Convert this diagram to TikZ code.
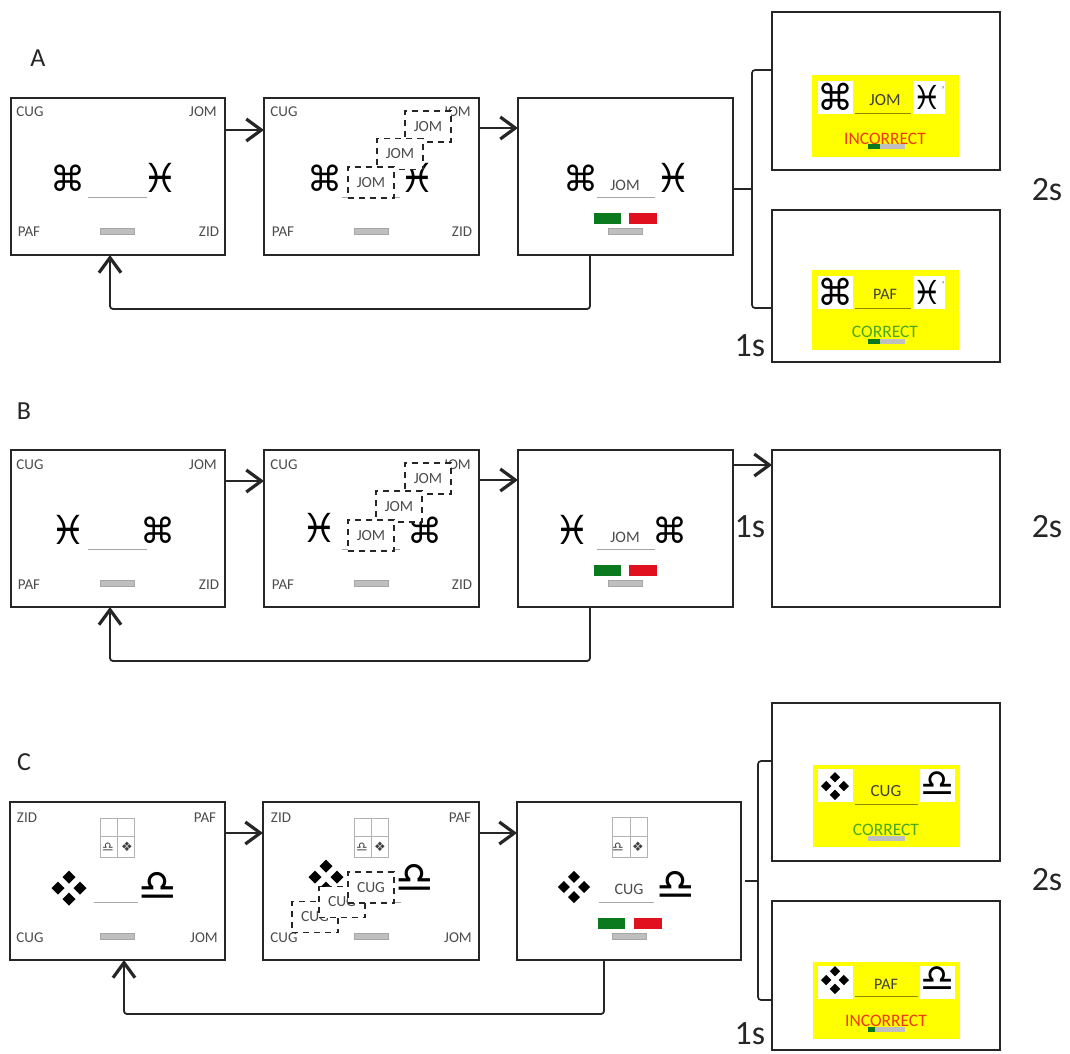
\documentclass[tikz,border=0pt]{standalone}
\usepackage{fontspec}
\setmainfont{Carlito}
\newfontfamily\symfont{DejaVu Sans}
\usetikzlibrary{arrows.meta}
\definecolor{okgreen}{HTML}{0B7A1E}
\definecolor{badred}{HTML}{E0101F}
\definecolor{hitgreen}{HTML}{4CA81A}
\definecolor{hitred}{HTML}{EE3A10}
\definecolor{flash}{HTML}{FFFF00}
\newcommand{\fsz}[1]{\fontsize{#1}{#1}\selectfont}
\tikzset{
  screen/.style={draw=black!85, line width=1.7pt, fill=white, inner sep=0pt, outer sep=0pt},
  lab/.style={font=\fsz{15}, text=black!70, inner sep=0pt},
  word/.style={font=\fsz{16}, text=black!70, inner sep=0pt},
  hit/.style={font=\fsz{17}, text=black!75, inner sep=0pt},
  msg/.style={font=\fsz{17.5}, inner sep=0pt},
  bigt/.style={font=\fsz{34}, text=black!85, inner sep=0pt},
  letter/.style={font=\fsz{26}, text=black!85, inner sep=0pt},
  cmd/.style={font=\symfont\fsz{35}, text=black, inner sep=0pt},
  fish/.style={font=\symfont\fsz{40}, text=black, inner sep=0pt},
  cmdb/.style={font=\symfont\fsz{36}, text=black, inner sep=0pt},
  fishb/.style={font=\symfont\fsz{33}, text=black, inner sep=0pt},
  libra/.style={font=\symfont\fsz{43}, text=black, inner sep=0pt},
  librab/.style={font=\symfont\fsz{38}, text=black, inner sep=0pt},
  gemset/.pic={\fill (-17.5,0) -- (-11,-6.5) -- (-4.5,0) -- (-11,6.5) -- cycle
    (4.5,0) -- (11,-6.5) -- (17.5,0) -- (11,6.5) -- cycle
    (-6.5,-11) -- (0,-17.5) -- (6.5,-11) -- (0,-4.5) -- cycle
    (-6.5,11) -- (0,4.5) -- (6.5,11) -- (0,17.5) -- cycle;},
  mini/.style={font=\symfont\fsz{13}, text=black!75, inner sep=0pt},
  drag/.style={draw=black!85, line width=1.8pt, dash pattern=on 6pt off 5pt, fill=white,
    minimum width=46pt, minimum height=31pt, inner sep=0pt, font=\fsz{15.5}, text=black!70},
  grey/.style={draw=black!35, fill=black!25, minimum width=34pt, minimum height=6pt, inner sep=0pt},
  gobar/.style={fill=okgreen, minimum width=27pt, minimum height=11pt, inner sep=0pt},
  nobar/.style={fill=badred, minimum width=28pt, minimum height=11pt, inner sep=0pt},
  slot/.style={draw=black!35, line width=0.6pt},
  slotb/.style={draw=black!45!flash, line width=0.6pt},
  gridln/.style={draw=black!30, line width=0.6pt},
  flow/.style={-{Straight Barb[length=15pt,width=22pt,line width=3.2pt]}, line width=1.8pt, draw=black!85},
  brack/.style={line width=1.7pt, draw=black!85, rounded corners=3pt},
  flashbg/.style={fill=flash, inner sep=0pt},
  blank/.style={fill=white, minimum width=35pt, minimum height=33pt, inner sep=0pt},
  minibar/.style={fill=black!25, minimum width=37pt, minimum height=5pt, inner sep=0pt},
}
\begin{document}
\begin{tikzpicture}[x=1pt,y=-1pt]
  \useasboundingbox (0,0) rectangle (1070,1053);
  % row A
  \node[letter] (lA) at (38,58) {A};
  \node[screen, minimum width=214pt, minimum height=157pt] (a1) at (118,176.5) {};
  \node[screen, minimum width=215pt, minimum height=157pt] (a2) at (371.5,176.5) {};
  \node[screen, minimum width=215pt, minimum height=157pt] (a3) at (625.5,176.5) {};
  \node[screen, minimum width=228pt, minimum height=158pt] (a4) at (886,91) {};
  \node[screen, minimum width=228pt, minimum height=152pt] (a5) at (886,286) {};
  \node[lab] (a1tl) at (30,112) {CUG};
  \node[lab] (a1tr) at (203,112) {JOM};
  \node[lab] (a1bl) at (29,232) {PAF};
  \node[lab] (a1br) at (209,232) {ZID};
  \node[cmd] (a1s) at (68,178) {⌘};
  \node[fish] (a1t) at (160,178) {♓};
  \draw[slot] (88,197) -- (147,197);
  \node[grey] (a1g) at (117,231) {};
  \node[lab] (a2tl) at (284,112) {CUG};
  \node[lab] (a2tr) at (457,112) {JOM};
  \node[lab] (a2bl) at (283,232) {PAF};
  \node[lab] (a2br) at (462,232) {ZID};
  \node[cmd] (a2s) at (325,178) {⌘};
  \node[fish] (a2t) at (417,178) {♓};
  \draw[slot] (342,197) -- (400,197);
  \node[grey] (a2g) at (371,231) {};
  \node[drag] (a2d3) at (428,126.5) {JOM};
  \node[drag] (a2d2) at (400,154) {JOM};
  \node[drag] (a2d1) at (371,182.5) {JOM};
  \node[cmd] (a3s) at (581,178) {⌘};
  \node[fish] (a3t) at (673,178) {♓};
  \node[word] (a3w) at (625,185) {JOM};
  \draw[slot] (597,197) -- (655,197);
  \node[gobar] (a3y) at (607.5,218.5) {};
  \node[nobar] (a3n) at (643,218.5) {};
  \node[grey] (a3g) at (625.5,231) {};
  % feedback A
  \node[flashbg, minimum width=147pt, minimum height=82pt] (a4f) at (885.5,116) {};
  \node[blank] (a4l) at (835,97) {};
  \node[blank, minimum width=32pt] (a4r) at (929,97) {};
  \node[cmdb] (a4s) at (835,97) {⌘};
  \node[fishb] (a4t) at (927,97) {♓};
  \node[lab, font=\fsz{10}] (a4k) at (943,90) {'};
  \node[hit] (a4w) at (885,100) {JOM};
  \draw[slotb] (855,113) -- (911,113);
  \node[msg, text=hitred] (a4m) at (885,139) {INCORRECT};
  \node[minibar] (a4b) at (886,146.5) {};
  \node[fill=okgreen, minimum width=12pt, minimum height=5pt, inner sep=0pt] (a4c) at (874,146.5) {};
  \node[flashbg, minimum width=147pt, minimum height=80pt] (a5f) at (885.5,310) {};
  \node[blank] (a5l) at (835,292) {};
  \node[blank, minimum width=32pt] (a5r) at (929,292) {};
  \node[cmdb] (a5s) at (835,292) {⌘};
  \node[fishb] (a5t) at (927,292) {♓};
  \node[lab, font=\fsz{10}] (a5k) at (943,285) {'};
  \node[hit, font=\fsz{16}] (a5w) at (885,294) {PAF};
  \draw[slotb] (855,308) -- (911,308);
  \node[msg, text=hitgreen] (a5m) at (885,332) {CORRECT};
  \node[minibar] (a5b) at (886,341) {};
  \node[fill=okgreen, minimum width=12pt, minimum height=5pt, inner sep=0pt] (a5c) at (874,341) {};
  \node[bigt] (a2l) at (1047,190) {2s};
  \node[bigt] (a1l) at (750,346) {1s};
  \coordinate (a3j) at (752,189);
  \draw[flow] (a1.east |- 0,130) -- (a2.west |- 0,130);
  \draw[flow] (a2.east |- 0,128) -- (a3.west |- 0,128);
  \draw[flow, rounded corners=3pt] (590,255) -- (590,309) -- (110,309) -- (110,255);
  \draw[line width=1.7pt, draw=black!85] (a3.east |- a3j) -- (a3j);
  \draw[brack] (a4.west |- 0,70) -- (a3j |- 0,70) -- (a3j |- 0,308) -- (a5.west |- 0,308);
  % row B
  \node[letter] (lB) at (24,411) {B};
  \node[screen, minimum width=214pt, minimum height=157pt] (b1) at (118,528.5) {};
  \node[screen, minimum width=215pt, minimum height=157pt] (b2) at (371.5,528.5) {};
  \node[screen, minimum width=215pt, minimum height=157pt] (b3) at (625.5,528.5) {};
  \node[screen, minimum width=228pt, minimum height=157pt] (b4) at (886,528.5) {};
  \node[lab] (b1tl) at (30,465) {CUG};
  \node[lab] (b1tr) at (203,465) {JOM};
  \node[lab] (b1bl) at (29,585) {PAF};
  \node[lab] (b1br) at (209,585) {ZID};
  \node[fish] (b1t) at (68,530) {♓};
  \node[cmd] (b1s) at (158,530) {⌘};
  \draw[slot] (88,549) -- (147,549);
  \node[grey] (b1g) at (117,583) {};
  \node[lab] (b2tl) at (284,465) {CUG};
  \node[lab] (b2tr) at (457,465) {JOM};
  \node[lab] (b2bl) at (283,585) {PAF};
  \node[lab] (b2br) at (462,585) {ZID};
  \node[fish] (b2t) at (319,528) {♓};
  \node[cmd] (b2s) at (425,530) {⌘};
  \draw[slot] (342,549) -- (400,549);
  \node[grey] (b2g) at (371,583) {};
  \node[drag] (b2d3) at (428,478.5) {JOM};
  \node[drag] (b2d2) at (399,506.5) {JOM};
  \node[drag] (b2d1) at (371,535.5) {JOM};
  \node[fish] (b3t) at (572,530) {♓};
  \node[cmd] (b3s) at (670,530) {⌘};
  \node[word] (b3w) at (625,537) {JOM};
  \draw[slot] (597,549) -- (655,549);
  \node[gobar] (b3y) at (607.5,570.5) {};
  \node[nobar] (b3n) at (643,570.5) {};
  \node[grey] (b3g) at (625.5,583) {};
  \node[bigt] (b2l) at (1047,527) {2s};
  \node[bigt] (b1l) at (750,527) {1s};
  \draw[flow] (b1.east |- 0,481) -- (b2.west |- 0,481);
  \draw[flow] (b2.east |- 0,480) -- (b3.west |- 0,480);
  \draw[flow] (b3.east |- 0,465) -- (b4.west |- 0,465);
  \draw[flow, rounded corners=3pt] (590,607) -- (590,661) -- (110,661) -- (110,607);
  % row C
  \node[letter] (lC) at (24,762) {C};
  \node[screen, minimum width=215pt, minimum height=158pt] (c1) at (117.5,881) {};
  \node[screen, minimum width=216pt, minimum height=158pt] (c2) at (371,881) {};
  \node[screen, minimum width=224pt, minimum height=158pt] (c3) at (629,881) {};
  \node[screen, minimum width=228pt, minimum height=158pt] (c4) at (886,782) {};
  \node[screen, minimum width=228pt, minimum height=149pt] (c5) at (886,975.5) {};
  \node[lab] (c1tl) at (27,818) {ZID};
  \node[lab] (c1tr) at (205,818) {PAF};
  \node[lab] (c1bl) at (30,938) {CUG};
  \node[lab] (c1br) at (204,938) {JOM};
  \draw[gridln] (100,818) rectangle (134,857) (117,818) -- (117,857) (100,836) -- (134,836);
  \node[mini] (c1p) at (108,847) {♎};
  \node[mini] (c1q) at (127,847) {❖};
  \pic (c1s) at (69,888) {gemset};
  \node[libra] (c1t) at (158,886) {♎};
  \draw[slot] (94,902) -- (138,902);
  \node[grey] (c1g) at (117,936) {};
  \node[lab] (c2tl) at (281,818) {ZID};
  \node[lab] (c2tr) at (460,818) {PAF};
  \node[lab] (c2bl) at (284,938) {CUG};
  \node[lab] (c2br) at (458,938) {JOM};
  \draw[gridln] (354,818) rectangle (388,857) (371,818) -- (371,857) (354,836) -- (388,836);
  \node[mini] (c2p) at (362,847) {♎};
  \node[mini] (c2q) at (380,847) {❖};
  \pic (c2s) at (326,877) {gemset};
  \node[libra] (c2t) at (415,878) {♎};
  \draw[slot] (347,902) -- (401,902);
  \node[grey] (c2g) at (371,936) {};
  \node[drag] (c2d1) at (315,917) {CUG};
  \node[drag] (c2d2) at (342,902) {CUG};
  \node[drag] (c2d3) at (371,887.5) {CUG};
  \draw[gridln] (612,817) rectangle (647,857) (630,817) -- (630,857) (612,836) -- (647,836);
  \node[mini] (c3p) at (618,847) {♎};
  \node[mini] (c3q) at (638,847) {❖};
  \pic[scale=0.92] (c3s) at (574,887) {gemset};
  \node[libra] (c3t) at (676,885) {♎};
  \node[word] (c3w) at (629,889) {CUG};
  \draw[slot] (599,902) -- (654,902);
  \node[gobar] (c3y) at (611,923.5) {};
  \node[nobar] (c3n) at (647.5,923.5) {};
  \node[grey] (c3g) at (629.5,936) {};
  % feedback C
  \node[flashbg, minimum width=147pt, minimum height=82pt] (c4f) at (886.5,806) {};
  \node[blank] (c4l) at (835.5,785) {};
  \node[blank] (c4r) at (937.5,785) {};
  \pic[scale=0.8] (c4s) at (835,786) {gemset};
  \node[librab] (c4t) at (938,784) {♎};
  \node[hit] (c4w) at (886,791) {CUG};
  \draw[slotb] (855,804) -- (918,804);
  \node[msg, text=hitgreen] (c4m) at (886,830) {CORRECT};
  \node[minibar] (c4b) at (886,838) {};
  \node[flashbg, minimum width=147pt, minimum height=77pt] (c5f) at (886.5,1000.5) {};
  \node[blank] (c5l) at (835.5,982) {};
  \node[blank] (c5r) at (937.5,982) {};
  \pic[scale=0.8] (c5s) at (835,980) {gemset};
  \node[librab] (c5t) at (938,979) {♎};
  \node[hit, font=\fsz{16}] (c5w) at (886,984) {PAF};
  \draw[slotb] (855,996) -- (918,996);
  \node[msg, text=hitred] (c5m) at (886,1021) {INCORRECT};
  \node[minibar] (c5b) at (886,1029) {};
  \node[fill=okgreen, minimum width=7pt, minimum height=5pt, inner sep=0pt] (c5c) at (871,1029) {};
  \node[bigt] (c2l) at (1047,880) {2s};
  \node[bigt] (c1l) at (750,1034) {1s};
  \coordinate (c3j) at (758,881);
  \draw[flow] (c1.east |- 0,833) -- (c2.west |- 0,833);
  \draw[flow] (c2.east |- 0,833) -- (c3.west |- 0,833);
  \draw[flow, rounded corners=3pt] (604,960) -- (604,1014) -- (124,1014) -- (124,960);
  \draw[line width=1.7pt, draw=black!85, shorten <=4pt] (c3.east |- c3j) -- (c3j);
  \draw[brack] (c4.west |- 0,761) -- (c3j |- 0,761) -- (c3j |- 0,1000) -- (c5.west |- 0,1000);
\end{tikzpicture}
\end{document}
